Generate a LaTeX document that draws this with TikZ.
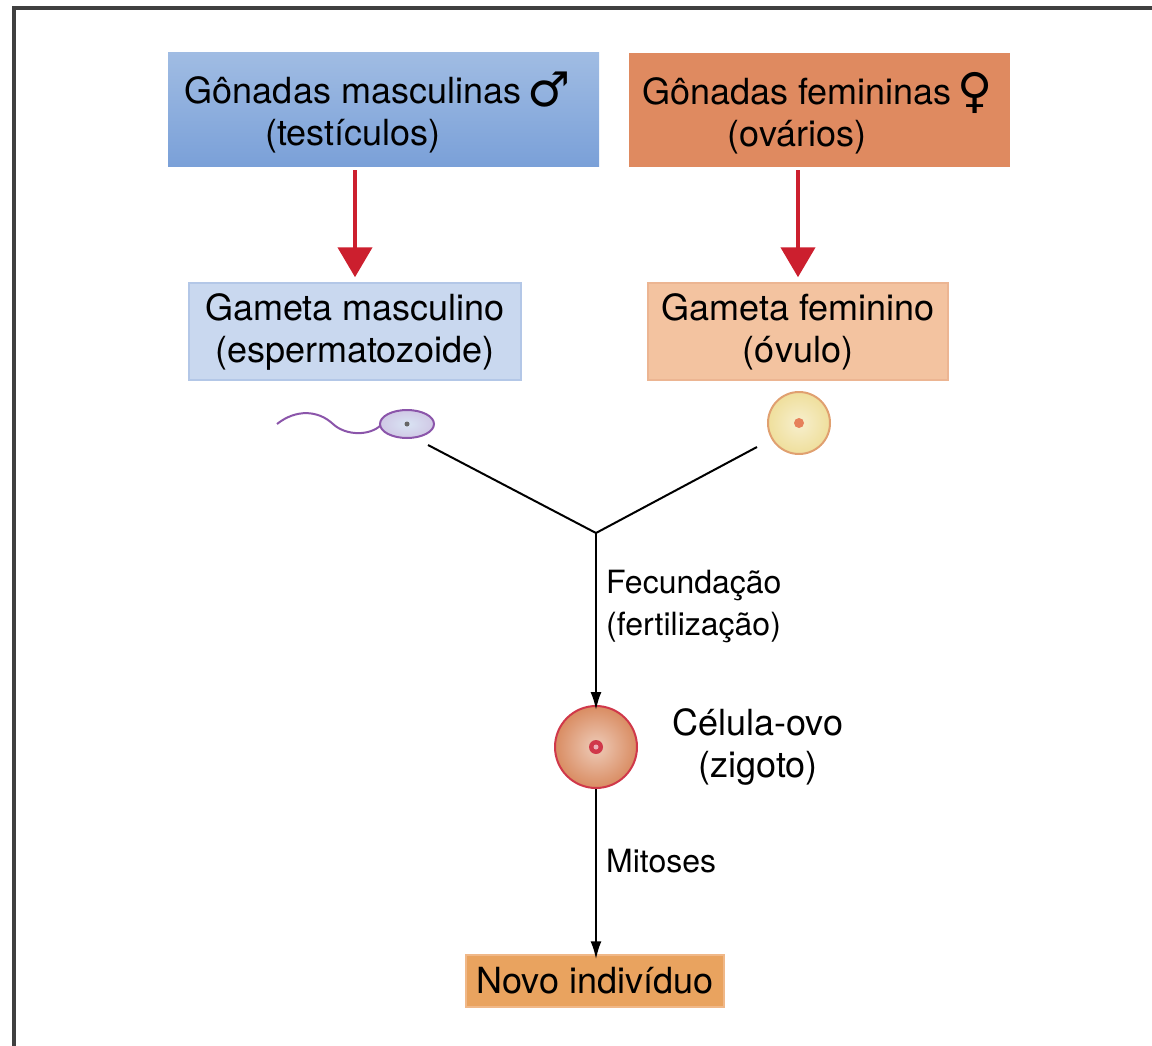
\documentclass[tikz,border=0pt]{standalone}
\usepackage{fontspec}
\setmainfont{TeX Gyre Heros}
\newfontfamily\symfont{DejaVu Sans}
\usetikzlibrary{arrows.meta,shapes.geometric}
\definecolor{mascbluetop}{HTML}{A0BCE3}
\definecolor{mascbluebot}{HTML}{7AA0D8}
\definecolor{femorange}{HTML}{DF8A60}
\definecolor{gamblue}{HTML}{C9D8EF}
\definecolor{gambluedraw}{HTML}{B3C7E7}
\definecolor{gamorange}{HTML}{F3C3A0}
\definecolor{gamorangedraw}{HTML}{ECB592}
\definecolor{novoorange}{HTML}{E9A35F}
\definecolor{novodraw}{HTML}{F0B888}
\definecolor{setared}{HTML}{CC1F2E}
\definecolor{spermpurple}{HTML}{8B55AA}
\definecolor{ovoyellow}{HTML}{EFDF9C}
\definecolor{ovoedge}{HTML}{E0A070}
\definecolor{zigotoorange}{HTML}{D98C62}
\definecolor{zigotoedge}{HTML}{D0384A}
\tikzset{
  caixa/.style={rectangle, inner sep=0pt, font=\fontsize{36}{42}\selectfont, align=center},
  rotulo/.style={inner sep=0pt, font=\fontsize{32}{42}\selectfont, align=left},
  setavermelha/.style={setared, line width=4.5pt, -{Triangle[width=34pt,length=30pt]}},
  seta/.style={black, line width=2pt, -{Latex[width=11pt,length=18pt]}}
}
\newcommand{\sexo}[1]{\rlap{\,\raisebox{-3pt}{\symfont\fontsize{48}{42}\selectfont #1}}}
\begin{document}
\begin{tikzpicture}[x=1pt, y=-1pt]
    \useasboundingbox (0,0) rectangle (1152,1046);
    \draw [line width=3.5pt, black!75] (14,1046) -- (14,8) -- (1152,8);
    % gonadas
    \node [caixa, minimum width=431pt, minimum height=114pt, top color=mascbluetop, bottom color=mascbluebot] (gonadm) at (383.5,110) {};
    \node [caixa] (gonadmtxt) at (353,113) {Gônadas masculinas\sexo{♂}\\(testículos)};
    \node [caixa, minimum width=381pt, minimum height=114pt, fill=femorange] (gonadf) at (819.5,110) {};
    \node [caixa] (gonadftxt) at (797,113) {Gônadas femininas\sexo{♀}\\(ovários)};
    % gametas
    \node [caixa, minimum width=332pt, minimum height=97pt, fill=gamblue, draw=gambluedraw, line width=1.5pt] (gametam) at (355,331.5) {Gameta masculino\\(espermatozoide)};
    \node [caixa, minimum width=300pt, minimum height=97pt, fill=gamorange, draw=gamorangedraw, line width=1.5pt] (gametaf) at (798,331.5) {Gameta feminino\\(óvulo)};
    \draw [setavermelha, shorten <=3pt, shorten >=5pt] (gametam.north |- gonadm.south) -- (gametam.north);
    \draw [setavermelha, shorten <=3pt, shorten >=5pt] (gametaf.north |- gonadf.south) -- (gametaf.north);
    % espermatozoide
    \draw [spermpurple, line width=2pt] (277,424) .. controls (296,409) and (318,410) .. (333,424) .. controls (346,436) and (370,436) .. (381,425);
    \node [ellipse, minimum width=54pt, minimum height=28pt, inner sep=0pt, draw=spermpurple, line width=2pt, inner color=gamblue!70!white, outer color=gamblue!60!spermpurple!60] (sperm) at (407,424) {};
    \fill [black!60] (sperm.center) circle (2.5pt);
    % ovulo
    \node [circle, minimum size=62pt, inner sep=0pt, draw=ovoedge, line width=2pt, inner color=ovoyellow!50!white, outer color=ovoyellow] (ovulo) at (799,423) {};
    \fill [ovoedge!80!red] (ovulo.center) circle (5pt);
    % fecundacao
    \coordinate (spermfim) at (428,445);
    \coordinate (ovulofim) at (757,447);
    \coordinate (encontro) at (596,533);
    \draw [line width=2pt] (spermfim) -- (encontro) -- (ovulofim);
    \node [circle, minimum size=82pt, inner sep=0pt, draw=zigotoedge, line width=2pt, inner color=zigotoorange!45!white, outer color=zigotoorange] (zigoto) at (596,747) {};
    \fill [zigotoedge] (zigoto.center) circle (7pt);
    \fill [zigotoedge!40!white] (zigoto.center) circle (2.5pt);
    \draw [seta] (encontro) -- ([yshift=-5pt]zigoto.north);
    \node [rotulo, anchor=west] (fecund) at (606,607) {Fecundação\\(fertilização)};
    \node [caixa] (celula) at (758,747) {Célula-ovo\\(zigoto)};
    % novo individuo
    \node [caixa, minimum width=258pt, minimum height=52pt, fill=novoorange, draw=novodraw, line width=1.5pt] (novo) at (595,981) {Novo indivíduo};
    \draw [seta] (zigoto.south) -- ([yshift=-5pt]novo.north -| zigoto.south);
    \node [rotulo, anchor=west] (mitoses) at (606,861) {Mitoses};
\end{tikzpicture}
\end{document}
